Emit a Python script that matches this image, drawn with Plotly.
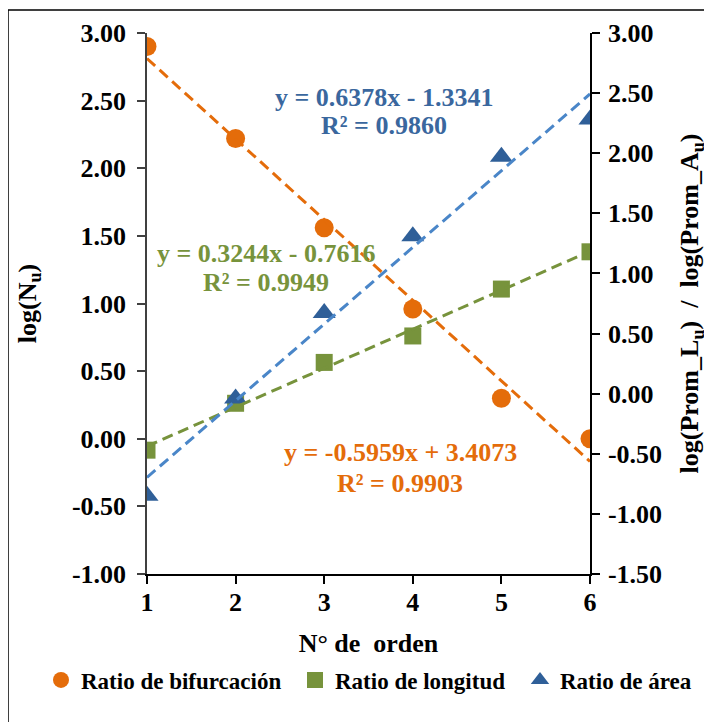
import plotly.graph_objects as go

# Datos
orden = [1, 2, 3, 4, 5, 6]
log_nu = [2.90, 2.22, 1.56, 0.96, 0.30, 0.00]        # eje izquierdo
log_lu = [-0.47, -0.08, 0.26, 0.48, 0.87, 1.18]      # eje derecho
log_au = [-0.85, -0.04, 0.67, 1.31, 1.97, 2.28]      # eje derecho

series_names = ["Ratio de bifurcación", "Ratio de longitud", "Ratio de área"]
trend_slope = [-0.5959, 0.3244, 0.6378]
trend_intercept = [3.4073, -0.7616, -1.3341]
trend_r2 = ["0.9903", "0.9949", "0.9860"]

left_ticks = [-1.0, -0.5, 0.0, 0.5, 1.0, 1.5, 2.0, 2.5, 3.0]
right_ticks = [-1.5, -1.0, -0.5, 0.0, 0.5, 1.0, 1.5, 2.0, 2.5, 3.0]

ORANGE = "#E46C0A"
GREEN = "#77933C"
BLUE = "#2F5F98"
BLUE_LINE = "#4A86C8"
BLUE_TEXT = "#3A679E"
FONT = "Liberation Serif"

# la página añade 8 px de margen al cuerpo
OFF = 8
PL, PR, PT, PB = 147, 590, 33, 574   # área de trazado en la captura

fig = go.Figure()

# Marcadores (cada serie con su propia leyenda para colocarlas en una fila)
fig.add_trace(go.Scatter(x=orden, y=log_nu, mode="markers", name="<b>%s</b>" % series_names[0],
                         marker=dict(symbol="circle", size=19, color=ORANGE), legend="legend"))
fig.add_trace(go.Scatter(x=orden, y=log_lu, mode="markers", name="<b>%s</b>" % series_names[1],
                         marker=dict(symbol="square", size=17, color=GREEN), yaxis="y2",
                         legend="legend2"))
fig.add_trace(go.Scatter(x=orden, y=log_au, mode="markers", name="<b>%s</b>" % series_names[2],
                         marker=dict(symbol="triangle-up", size=20, color=BLUE), yaxis="y2",
                         legend="legend3"))

# Líneas de tendencia (desde los coeficientes mostrados)
x_ends = [orden[0], orden[-1]]
for i, (col, ax) in enumerate([(ORANGE, "y"), (GREEN, "y2"), (BLUE_LINE, "y2")]):
    fig.add_trace(go.Scatter(
        x=x_ends, y=[trend_slope[i] * x + trend_intercept[i] for x in x_ends],
        mode="lines", showlegend=False, hoverinfo="skip", yaxis=ax,
        line=dict(color=col, width=3, dash="11px,6px")))

def eq_text(i):
    sign = "-" if trend_intercept[i] < 0 else "+"
    return "y = %.4fx %s %.4f" % (trend_slope[i], sign, abs(trend_intercept[i]))

# Ecuaciones
eqs = [(2, 384, 97, 126, BLUE_TEXT), (1, 266, 253, 282, GREEN), (0, 400, 452, 483, ORANGE)]
for i, xc, y1, y2, col in eqs:
    for txt, yy in [(eq_text(i), y1), ("R² = " + trend_r2[i], y2)]:
        fig.add_annotation(text="<b>%s</b>" % txt, xref="paper", yref="paper",
                           x=(xc - PL) / (PR - PL), y=(PB - yy) / (PB - PT),
                           showarrow=False, xanchor="center", yanchor="middle",
                           font=dict(family=FONT, size=26, color=col))

axis_font = dict(family=FONT, size=26, color="black")
tick_fmt = dict(showgrid=False, zeroline=False, ticks="outside", ticklen=8,
                tickwidth=1.5, tickfont=axis_font, automargin=False)

def legend_at(symbol_x):
    return dict(orientation="h", xref="container", yref="container",
                xanchor="left", yanchor="middle",
                x=(symbol_x - 23 - OFF) / 712, y=1 - (680 - OFF) / 722,
                font=dict(family=FONT, size=23, color="black"),
                itemwidth=30, bgcolor="rgba(0,0,0,0)")

fig.update_layout(
    width=712, height=722,
    paper_bgcolor="white", plot_bgcolor="white",
    margin=dict(l=PL - OFF, r=712 - (PR - OFF), t=PT - OFF, b=722 - (PB - OFF)),
    font=dict(family=FONT),
    xaxis=dict(range=[1, 6], tickvals=orden, ticktext=["<b>%d</b>" % v for v in orden],
               showline=True, linecolor="black", linewidth=1.5, tickcolor="black",
               ticklabelstandoff=-4,
               title=dict(text="<b>N° de  orden</b>", font=axis_font, standoff=28),
               **tick_fmt),
    yaxis=dict(range=[-1, 3], tickvals=left_ticks,
               ticktext=["<b>%.2f</b>" % v for v in left_ticks],
               showline=True, linecolor="#404040", linewidth=1.5, tickcolor="#404040",
               ticklabelstandoff=6,
               title=dict(text="<b>log(N<sub>u</sub>)</b>", font=axis_font, standoff=28),
               **tick_fmt),
    yaxis2=dict(range=[-1.5, 3], tickvals=right_ticks,
                ticktext=["<b>%.2f</b>" % v for v in right_ticks],
                overlaying="y", side="right", anchor="x",
                showline=True, linecolor="black", linewidth=1.5, tickcolor="black",
                ticklabelstandoff=3,
                title=dict(text="<b>log(Prom_L<sub>u</sub>)  /  log(Prom_A<sub>u</sub>)</b>",
                           font=axis_font, standoff=19),
                **tick_fmt),
    legend=legend_at(64),
    legend2=legend_at(318),
    legend3=legend_at(543),
    showlegend=True,
)

# Marco exterior
fig.add_shape(type="rect", xref="paper", yref="paper",
              x0=(8 - PL) / (PR - PL), x1=(740 - PL) / (PR - PL),
              y0=(PB - 740) / (PB - PT), y1=(PB - 10) / (PB - PT),
              line=dict(color="black", width=1.5), layer="below")

fig.write_html("out.html")
